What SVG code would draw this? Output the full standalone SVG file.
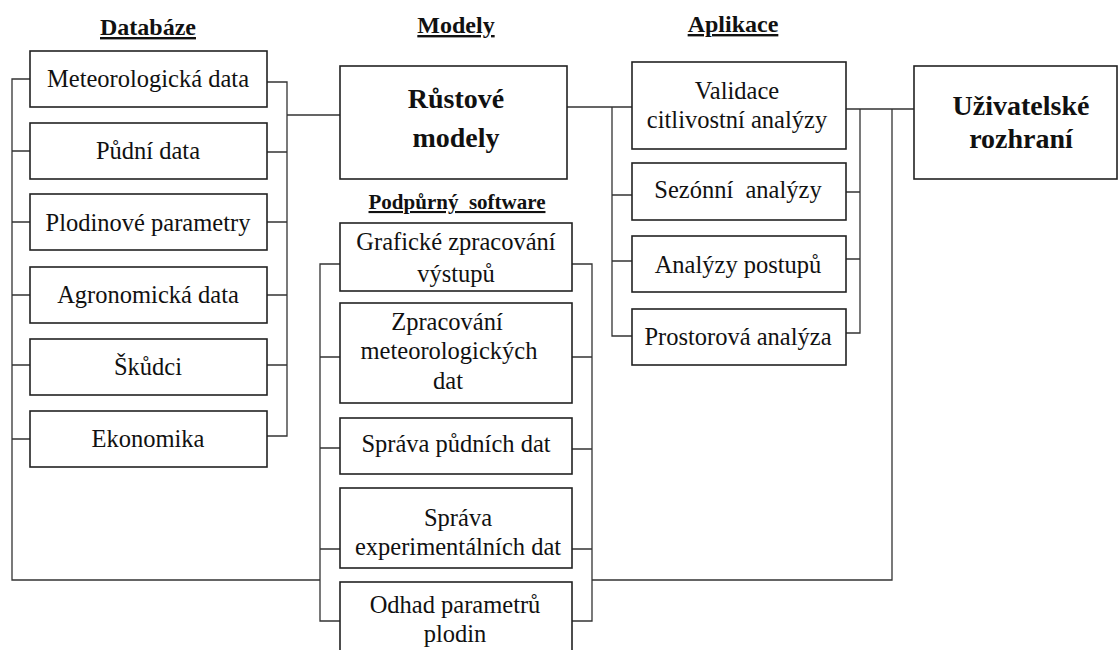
<svg xmlns="http://www.w3.org/2000/svg" width="1119" height="650" viewBox="0 0 1119 650" font-family="'Liberation Serif', 'Times New Roman', 'DejaVu Serif', serif">
<style>
.box{fill:#fff;stroke:#222;stroke-width:1.6}
.conn{fill:none;stroke:#333;stroke-width:1.3}
text{font-family:'Liberation Serif','Times New Roman','DejaVu Serif',serif}
.t{font-size:24.5px;text-anchor:middle;fill:#111}
.b{font-weight:bold;font-size:28px}
.h{font-weight:bold;font-size:24px;text-anchor:middle;fill:#111;text-decoration:underline}
.hs{font-size:21px}
</style>
<rect width="1119" height="650" fill="#fff"/>
<g id="titles">
<text class="h" x="148" y="35">Databáze</text>
<text class="h" x="456" y="33">Modely</text>
<text class="h" x="733" y="32">Aplikace</text>
<text class="h hs" x="457" y="209" xml:space="preserve">Podpůrný  software</text>
</g>
<g id="connectors">
<path class="conn" d="M30,79 H12 V580 H320 M12,151 H30 M12,222 H30 M12,295 H30 M12,365 H30 M12,439 H30"/>
<path class="conn" d="M267,82 H287 V436 H267 M267,152 H287 M267,222 H287 M267,295 H287 M267,365 H287 M287,115 H340"/>
<path class="conn" d="M567,107 H632 M612,107 V336 H632 M612,195 H632 M612,261 H632"/>
<path class="conn" d="M846,109 H914 M860,109 V333 H846 M846,192 H860 M846,259 H860"/>
<path class="conn" d="M892,109 V580 H592"/>
<path class="conn" d="M340,264 H320 V621 H340 M320,357 H340 M320,448 H340 M320,549 H340"/>
<path class="conn" d="M572,264 H592 V621 H572 M572,357 H592 M572,449 H592 M572,549 H592"/>
</g>
<g id="db-meteo"><rect class="box" x="30" y="51" width="237" height="56"/><text class="t" x="148" y="87">Meteorologická data</text></g>
<g id="db-pudni"><rect class="box" x="30" y="123" width="237" height="56"/><text class="t" x="148" y="159">Půdní data</text></g>
<g id="db-plodinove"><rect class="box" x="30" y="194" width="237" height="56"/><text class="t" x="148" y="231">Plodinové parametry</text></g>
<g id="db-agro"><rect class="box" x="30" y="267" width="237" height="56"/><text class="t" x="148" y="303">Agronomická data</text></g>
<g id="db-skudci"><rect class="box" x="30" y="339" width="237" height="56"/><text class="t" x="148" y="375">Škůdci</text></g>
<g id="db-ekonomika"><rect class="box" x="30" y="411" width="237" height="56"/><text class="t" x="148" y="447">Ekonomika</text></g>
<g id="rustove-modely"><rect class="box" x="340" y="66" width="227" height="113"/><text class="t b" x="456" y="108">Růstové</text><text class="t b" x="456" y="147">modely</text></g>
<g id="sw-graficke"><rect class="box" x="340" y="223" width="232" height="68"/><text class="t" x="456" y="250">Grafické zpracování</text><text class="t" x="456" y="282">výstupů</text></g>
<g id="sw-meteo"><rect class="box" x="340" y="303" width="232" height="100"/><text class="t" x="447" y="330">Zpracování</text><text class="t" x="449" y="359">meteorologických</text><text class="t" x="448" y="389">dat</text></g>
<g id="sw-pudni"><rect class="box" x="340" y="418" width="232" height="56"/><text class="t" x="456" y="452">Správa půdních dat</text></g>
<g id="sw-experiment"><rect class="box" x="340" y="488" width="232" height="80"/><text class="t" x="458" y="526">Správa</text><text class="t" x="458" y="555">experimentálních dat</text></g>
<g id="sw-odhad"><rect class="box" x="340" y="582" width="232" height="90"/><text class="t" x="455" y="613">Odhad parametrů</text><text class="t" x="455" y="642">plodin</text></g>
<g id="app-validace"><rect class="box" x="632" y="62" width="214" height="87"/><text class="t" x="737" y="99">Validace</text><text class="t" x="737" y="128">citlivostní analýzy</text></g>
<g id="app-sezonni"><rect class="box" x="632" y="163" width="214" height="57"/><text class="t" x="738" y="198" xml:space="preserve">Sezónní  analýzy</text></g>
<g id="app-postupy"><rect class="box" x="632" y="236" width="214" height="56"/><text class="t" x="738" y="273">Analýzy postupů</text></g>
<g id="app-prostorova"><rect class="box" x="632" y="309" width="214" height="56"/><text class="t" x="738" y="345">Prostorová analýza</text></g>
<g id="uzivatelske-rozhrani"><rect class="box" x="914" y="66" width="203" height="113"/><text class="t b" x="1021" y="115">Uživatelské</text><text class="t b" x="1021" y="148">rozhraní</text></g>
</svg>
